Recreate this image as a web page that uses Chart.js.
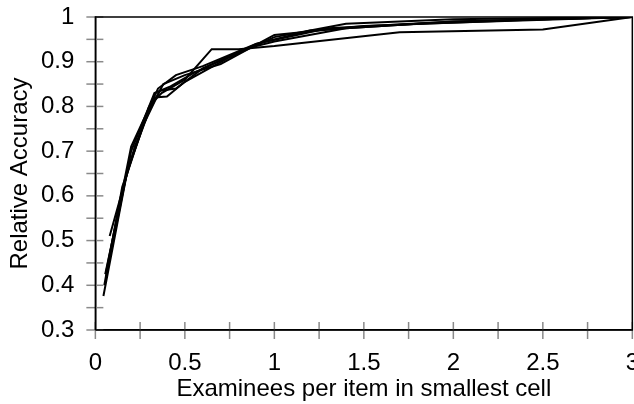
<!DOCTYPE html>
<html>
<head>
<meta charset="utf-8">
<script src="https://cdn.jsdelivr.net/npm/chart.js@4.4.0/dist/chart.umd.min.js"></script>
<style>
  html, body { margin: 0; padding: 0; background: #fff; overflow: hidden; }
  #wrap { width: 639px; height: 404px; }
</style>
</head>
<body>
<div id="wrap"><canvas id="myChart" width="639" height="404"></canvas></div>
<script>
        // x = examinees per item in smallest cell, y = relative accuracy
        const xA = [0.045, 0.20, 0.33, 0.42, 0.55, 0.85, 1.0, 1.4, 2.0, 3.0];
        const yA = [0.376, 0.70, 0.83, 0.845, 0.875, 0.93, 0.945, 0.975, 0.99, 1.0];
        const xB = [0.055, 0.17, 0.30, 0.37, 0.50, 0.65, 0.80, 1.0, 1.7, 2.5, 3.0];
        const yB = [0.425, 0.64, 0.80, 0.83, 0.86, 0.928, 0.928, 0.935, 0.966, 0.972, 1.0];
        const xC = [0.06, 0.20, 0.35, 0.45, 0.60, 0.90, 1.3, 2.0, 3.0];
        const yC = [0.43, 0.71, 0.84, 0.87, 0.89, 0.94, 0.975, 0.99, 1.0];
        const xD = [0.08, 0.22, 0.33, 0.40, 0.50, 0.75, 1.0, 1.4, 2.0, 3.0];
        const yD = [0.51, 0.71, 0.82, 0.822, 0.855, 0.91, 0.955, 0.985, 0.995, 1.0];
        const xE = [0.06, 0.18, 0.30, 0.38, 0.50, 0.70, 1.0, 1.5, 2.5, 3.0];
        const yE = [0.42, 0.66, 0.79, 0.85, 0.87, 0.895, 0.96, 0.98, 0.995, 1.0];
        const xF = [0.05, 0.15, 0.27, 0.36, 0.45, 0.60, 0.90, 1.2, 1.8, 3.0];
        const yF = [0.40, 0.62, 0.76, 0.835, 0.84, 0.885, 0.94, 0.97, 0.985, 1.0];

        const xTicks = ['0', '0.5', '1', '1.5', '2', '2.5', '3'];
        const yTicks = ['0.3', '0.4', '0.5', '0.6', '0.7', '0.8', '0.9', '1'];

        const allSeries = [[xA, yA], [xB, yB], [xC, yC], [xD, yD], [xE, yE], [xF, yF]];

        function toPoints(xs, ys) {
            return xs.map((x, i) => ({ x: x, y: ys[i] }));
        }

        // gray tick marks crossing the axes + black frame on top/right
        const axisDeco = {
            id: 'axisDeco',
            afterDraw(chart) {
                const ctx = chart.ctx;
                const a = chart.chartArea;
                const xs = chart.scales.x, ys = chart.scales.y;
                ctx.save();
                ctx.strokeStyle = '#8a8a8a';
                ctx.lineWidth = 1.5;
                xs.ticks.forEach(t => {
                    const p = xs.getPixelForValue(t.value);
                    ctx.beginPath();
                    ctx.moveTo(p, a.bottom - 8);
                    ctx.lineTo(p, a.bottom + 9);
                    ctx.stroke();
                });
                ys.ticks.forEach(t => {
                    const p = ys.getPixelForValue(t.value);
                    ctx.beginPath();
                    ctx.moveTo(a.left - 9, p);
                    ctx.lineTo(a.left + 8, p);
                    ctx.stroke();
                });
                ctx.strokeStyle = '#000';
                ctx.lineWidth = 1.5;
                ctx.beginPath();
                ctx.moveTo(a.left, a.bottom);
                ctx.lineTo(a.left, a.top);
                ctx.lineTo(a.right, a.top);
                ctx.lineTo(a.right, a.bottom);
                ctx.lineTo(a.left, a.bottom);
                ctx.stroke();
                ctx.restore();
            }
        };

        const font = { family: '"Liberation Sans", Arial, sans-serif', size: 24, lineHeight: 1 };

        const ctx = document.getElementById('myChart').getContext('2d');
        const myChart = new Chart(ctx, {
            type: 'line',
            data: {
                datasets: allSeries.map(s => ({
                    data: toPoints(s[0], s[1]),
                    borderColor: '#000',
                    borderWidth: 2,
                    pointRadius: 0,
                    fill: false,
                    tension: 0
                }))
            },
            options: {
                responsive: false,
                animation: false,
                layout: { padding: { top: 17, right: 0, bottom: 3, left: 8 } },
                plugins: {
                    legend: { display: false },
                    tooltip: { enabled: false }
                },
                scales: {
                    x: {
                        type: 'linear',
                        min: 0, max: 3,
                        ticks: {
                            stepSize: 0.25,
                            autoSkip: false,
                            maxRotation: 0,
                            color: '#000',
                            font: font,
                            padding: 0,
                            callback: (v) => {
                                const i = Math.round(v * 2);
                                return Math.abs(v * 2 - i) < 1e-6 ? xTicks[i] : '';
                            }
                        },
                        grid: { drawOnChartArea: false, tickColor: 'rgba(0,0,0,0)', tickLength: 21 },
                        border: { color: '#000', width: 1.5 },
                        title: { display: true, text: 'Examinees per item in smallest cell', color: '#000', font: font, padding: { top: 2, bottom: 0 } }
                    },
                    y: {
                        type: 'linear',
                        min: 0.3, max: 1,
                        ticks: {
                            stepSize: 0.05,
                            autoSkip: false,
                            color: '#000',
                            font: font,
                            padding: 3,
                            callback: (v) => {
                                const k = Math.round((v - 0.3) * 10);
                                return Math.abs((v - 0.3) * 10 - k) < 1e-6 ? yTicks[k] : '';
                            }
                        },
                        grid: { drawOnChartArea: false, tickColor: 'rgba(0,0,0,0)', tickLength: 18 },
                        border: { color: '#000', width: 1.5 },
                        title: { display: true, text: 'Relative Accuracy', color: '#000', font: font, padding: { top: 0, bottom: 6 } }
                    }
                }
            },
            plugins: [axisDeco]
        });
</script>
</body>
</html>
